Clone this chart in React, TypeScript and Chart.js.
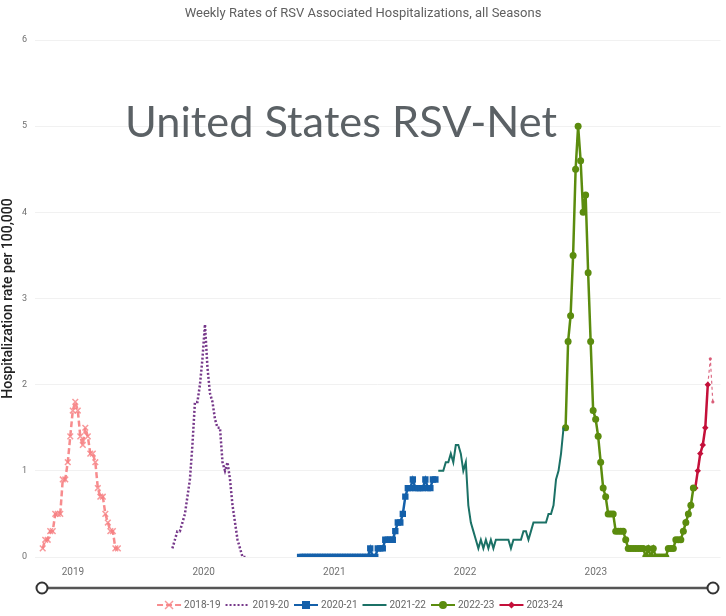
import React, { useEffect, useRef } from "react";
import { Chart, registerables } from "chart.js";

Chart.register(...registerables);

// ---- Data (weekly rates per 100,000) ----
const seasonLabels = ["2018-19", "2019-20", "2020-21", "2021-22", "2022-23", "2023-24"];
// first week of each season, as decimal year
const seasonStarts = [2018.769, 2019.761, 2020.738, 2021.795, 2022.769, 2023.761];

const rates2018_19 = [0.1, 0.2, 0.2, 0.3, 0.3, 0.5, 0.5, 0.5, 0.9, 0.9, 1.1, 1.4, 1.7, 1.8, 1.7, 1.4, 1.3, 1.5, 1.4, 1.2, 1.2, 1.1, 0.8, 0.7, 0.7, 0.5, 0.4, 0.3, 0.3, 0.1, 0.1];
const rates2019_20 = [0.1, 0.2, 0.3, 0.3, 0.4, 0.5, 0.7, 0.9, 1.3, 1.8, 1.8, 2.0, 2.3, 2.7, 2.2, 1.9, 1.8, 1.6, 1.5, 1.5, 1.1, 1.0, 1.1, 0.9, 0.6, 0.4, 0.2, 0.1, 0.0, 0.0, 0.0];
const rates2020_21 = [0, 0, 0, 0, 0, 0, 0, 0, 0, 0, 0, 0, 0, 0, 0, 0, 0, 0, 0, 0, 0, 0, 0, 0, 0, 0, 0, 0, 0.1, 0, 0, 0.1, 0.1, 0.1, 0.2, 0.2, 0.2, 0.2, 0.3, 0.4, 0.4, 0.5, 0.7, 0.8, 0.8, 0.9, 0.8, 0.8, 0.8, 0.8, 0.9, 0.8, 0.8, 0.9, 0.9];
const rates2021_22 = [1.0, 1.0, 1.0, 1.1, 1.1, 1.2, 1.1, 1.3, 1.3, 1.2, 1.0, 1.1, 0.6, 0.4, 0.3, 0.2, 0.1, 0.2, 0.1, 0.2, 0.1, 0.2, 0.1, 0.2, 0.2, 0.2, 0.2, 0.2, 0.2, 0.1, 0.2, 0.2, 0.2, 0.2, 0.3, 0.3, 0.2, 0.3, 0.4, 0.4, 0.4, 0.4, 0.4, 0.4, 0.5, 0.5, 0.6, 0.9, 1.0, 1.2, 1.5];
const rates2022_23 = [1.5, 2.5, 2.8, 3.5, 4.5, 5.0, 4.6, 4.0, 4.2, 3.3, 2.5, 1.7, 1.6, 1.4, 1.1, 0.8, 0.7, 0.5, 0.5, 0.5, 0.3, 0.3, 0.3, 0.3, 0.2, 0.1, 0.1, 0.1, 0.1, 0.1, 0.1, 0.1, 0.0, 0.1, 0.0, 0.1, 0.0, 0.0, 0.0, 0.0, 0.0, 0.1, 0.1, 0.1, 0.2, 0.2, 0.2, 0.3, 0.4, 0.5, 0.6, 0.8];
const rates2023_24 = [0.8, 1.0, 1.2, 1.3, 1.5, 2.0];
// preliminary continuation of 2023-24 (dashed, not in legend)
const prelimStart = 2023.857;
const rates2023_24_prelim = [2.0, 2.3, 1.8];

const yTicks = [0, 1, 2, 3, 4, 5, 6];
const xMin = 2018.71;
const xMax = 2023.954;

const WEEK = 7 / 365.25;
const toPoints = (start: number, vals: number[]) => vals.map((v, i) => ({ x: start + i * WEEK, y: v }));

const FONT = "Roboto, 'DejaVu Sans', sans-serif";

const overlayPlugin = {
  id: "overlay",
  afterDatasetsDraw(chart: any) {
    const ctx = chart.ctx as CanvasRenderingContext2D;
    ctx.save();
    const txt = "United States RSV-Net";
    ctx.font = "43px Lato, 'Open Sans', sans-serif";
    const w = ctx.measureText(txt).width;
    const target = 432;
    ctx.translate(125, 136.5);
    ctx.scale(target / w, 1);
    ctx.fillStyle = "#5b6165";
    ctx.textBaseline = "alphabetic";
    ctx.textAlign = "left";
    ctx.fillText(txt, 0, 0);
    ctx.restore();
  },
  afterDraw(chart: any) {
    const ctx = chart.ctx as CanvasRenderingContext2D;
    // Title
    ctx.save();
    ctx.font = `13px ${FONT}`;
    ctx.fillStyle = "#606060";
    ctx.textAlign = "center";
    ctx.textBaseline = "middle";
    ctx.fillText("Weekly Rates of RSV Associated Hospitalizations, all Seasons", 363, 14);
    ctx.restore();

    // Range slider
    ctx.save();
    ctx.strokeStyle = "#555555";
    ctx.lineWidth = 2.5;
    ctx.beginPath();
    ctx.moveTo(42, 588);
    ctx.lineTo(713, 588);
    ctx.stroke();
    ctx.lineWidth = 2;
    ctx.strokeStyle = "#333333";
    ctx.fillStyle = "#ffffff";
    for (const cx of [42, 713]) {
      ctx.beginPath();
      ctx.arc(cx, 588, 5.5, 0, Math.PI * 2);
      ctx.fill();
      ctx.stroke();
    }
    ctx.restore();

    // Legend
    const items = chart.data.datasets.filter((d: any) => !d.hideInLegend);
    ctx.save();
    ctx.font = `10px ${FONT}`;
    const lineLen = 24;
    const gap = 3;
    const spacing = 5;
    const widths = items.map((d: any) => lineLen + gap + ctx.measureText(d.label).width);
    const total = widths.reduce((a: number, b: number) => a + b, 0) + spacing * (items.length - 1);
    let x = 360 - total / 2;
    const y = 605;
    items.forEach((d: any, i: number) => {
      ctx.save();
      ctx.strokeStyle = d.borderColor;
      ctx.lineWidth = Math.min(d.borderWidth, 2);
      ctx.setLineDash(d.borderDash || []);
      ctx.beginPath();
      ctx.moveTo(x, y);
      ctx.lineTo(x + lineLen, y);
      ctx.stroke();
      ctx.setLineDash([]);
      if (d.pointRadius > 0) {
        const ps = d.pointStyle;
        ctx.fillStyle = d.pointBackgroundColor || d.borderColor;
        ctx.strokeStyle = d.pointBorderColor || d.borderColor;
        ctx.lineWidth = 1.5;
        const cx = x + lineLen / 2;
        const r = 4;
        ctx.beginPath();
        if (ps === "crossRot") {
          ctx.moveTo(cx - r, y - r); ctx.lineTo(cx + r, y + r);
          ctx.moveTo(cx + r, y - r); ctx.lineTo(cx - r, y + r);
          ctx.stroke();
        } else if (ps === "rect") {
          ctx.fillRect(cx - 4, y - 4, 8, 8);
        } else if (ps === "rectRot") {
          ctx.moveTo(cx, y - 3.5); ctx.lineTo(cx + 3.5, y); ctx.lineTo(cx, y + 3.5); ctx.lineTo(cx - 3.5, y);
          ctx.closePath(); ctx.fill();
        } else {
          ctx.arc(cx, y, r, 0, Math.PI * 2);
          ctx.fill();
        }
      }
      ctx.fillStyle = "#666666";
      ctx.textAlign = "left";
      ctx.textBaseline = "middle";
      ctx.fillText(d.label, x + lineLen + gap, y);
      ctx.restore();
      x += widths[i] + spacing;
    });
    ctx.restore();
  },
};

export default function App() {
  const canvasRef = useRef<HTMLCanvasElement | null>(null);

  useEffect(() => {
    if (!canvasRef.current) return;
    const seriesVals = [rates2018_19, rates2019_20, rates2020_21, rates2021_22, rates2022_23, rates2023_24];
    const styles: any[] = [
      { borderColor: "rgba(246,128,130,0.9)", borderWidth: 2.5, borderDash: [6, 3], pointStyle: "crossRot", pointRadius: 4, pointBorderWidth: 1.5, pointBorderColor: "rgba(246,128,130,0.8)", pointBackgroundColor: "rgba(246,128,130,0.8)" },
      { borderColor: "#76388a", borderWidth: 2.5, borderDash: [2, 2], pointRadius: 0 },
      { borderColor: "#1460aa", borderWidth: 2.5, pointStyle: "rect", pointRadius: 4.5, pointBorderWidth: 0, pointBackgroundColor: "#1460aa", pointBorderColor: "#1460aa" },
      { borderColor: "#1b7166", borderWidth: 2, pointRadius: 0 },
      { borderColor: "#5b8c0e", borderWidth: 2.5, pointStyle: "circle", pointRadius: 3.5, pointBorderWidth: 0, pointBackgroundColor: "#5b8c0e", pointBorderColor: "#5b8c0e" },
      { borderColor: "#c4103a", borderWidth: 2.5, pointStyle: "rectRot", pointRadius: 3.2, pointBorderWidth: 0, pointBackgroundColor: "#c4103a", pointBorderColor: "#c4103a" },
    ];
    const datasets: any[] = seriesVals.map((vals, i) => ({
      label: seasonLabels[i],
      data: toPoints(seasonStarts[i], vals),
      fill: false,
      tension: 0,
      ...styles[i],
    }));
    datasets.push({
      label: "2023-24 preliminary",
      hideInLegend: true,
      data: toPoints(prelimStart, rates2023_24_prelim),
      borderColor: "rgba(214,80,110,0.85)",
      borderWidth: 1.2,
      borderDash: [3, 3],
      pointStyle: "circle",
      pointRadius: 1.6,
      pointBorderWidth: 0,
      pointBackgroundColor: "rgba(214,80,110,0.9)",
      fill: false,
    });

    const chart = new Chart(canvasRef.current, {
      type: "line",
      data: { datasets },
      options: {
        animation: false,
        responsive: true,
        maintainAspectRatio: false,
        layout: { padding: { top: 40, right: 4, left: 0, bottom: 0 } },
        plugins: {
          legend: { display: false },
          title: { display: false },
          tooltip: { enabled: false },
        },
        scales: {
          x: {
            type: "linear",
            min: xMin,
            max: xMax,
            grid: { display: false, drawTicks: false },
            border: { display: false },
            ticks: {
              stepSize: 1,
              includeBounds: false,
              padding: 9,
              color: "#707070",
              font: { size: 10, family: FONT },
              maxRotation: 0,
              autoSkip: false,
              callback: (v: any) => (Number.isInteger(v) ? String(v) : ""),
            },
            afterFit: (scale: any) => {
              scale.height = 59;
            },
          },
          y: {
            min: yTicks[0],
            max: yTicks[yTicks.length - 1],
            grid: { color: "#f1f1f1", drawTicks: false, lineWidth: 1 },
            border: { display: false },
            ticks: {
              stepSize: 1,
              padding: 8,
              color: "#707070",
              font: { size: 9, family: FONT },
            },
            title: {
              display: true,
              text: "Hospitalization rate per 100,000",
              color: "#222222",
              font: { size: 14, family: FONT, weight: "500" },
              padding: { top: 0, bottom: 0 },
            },
            afterFit: (scale: any) => {
              scale.width = 35;
            },
          },
        },
      },
      plugins: [overlayPlugin],
    } as any);
    return () => chart.destroy();
  }, []);

  return (
    <div style={{ position: "fixed", left: 0, top: 0, width: 726, height: 616, background: "#ffffff" }}>
      <canvas ref={canvasRef} />
    </div>
  );
}
